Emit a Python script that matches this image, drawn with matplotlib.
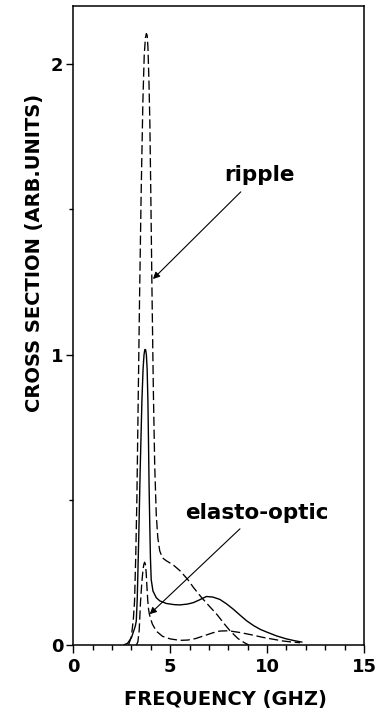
import matplotlib
matplotlib.use("Agg")
import matplotlib.pyplot as plt
from matplotlib.ticker import MultipleLocator

# ---- data ----
total_x = [2.6, 2.8, 3.0, 3.1, 3.2, 3.25, 3.3, 3.38, 3.45, 3.54, 3.6, 3.65, 3.69, 3.73,
           3.77, 3.81, 3.85, 3.88, 3.91, 3.95, 3.98, 4.02, 4.11, 4.28, 4.46, 4.8, 5.2,
           5.5, 5.9, 6.2, 6.5, 6.87, 7.2, 7.56, 7.9, 8.26, 8.6, 8.95, 9.3, 9.64, 10.0,
           10.5, 11.0, 11.4, 11.8]
total_y = [0.0, 0.006, 0.025, 0.045, 0.065, 0.083, 0.16, 0.38, 0.6, 0.84, 0.95, 1.0, 1.017,
           1.017, 1.0, 0.95, 0.84, 0.7, 0.55, 0.4, 0.3, 0.225, 0.186, 0.163, 0.152,
           0.143, 0.139, 0.138, 0.141, 0.146, 0.155, 0.167, 0.165, 0.157, 0.142, 0.123,
           0.103, 0.083, 0.067, 0.054, 0.044, 0.031, 0.021, 0.015, 0.01]

ripple_x = [2.85, 3.0, 3.1, 3.16, 3.22, 3.28, 3.35, 3.42, 3.5, 3.59, 3.66, 3.72, 3.77,
            3.81, 3.85, 3.9, 3.95, 4.0, 4.06, 4.13, 4.2, 4.28, 4.36, 4.46, 4.6, 4.8,
            5.15, 5.5, 5.9, 6.2, 6.6, 7.0, 7.4, 7.8, 8.1, 8.5, 8.8, 9.05]
ripple_y = [0.0, 0.03, 0.09, 0.15, 0.3, 0.5, 0.85, 1.2, 1.55, 1.87, 2.03, 2.09, 2.105,
            2.1, 2.06, 1.95, 1.8, 1.55, 1.22, 0.88, 0.62, 0.45, 0.37, 0.324, 0.3, 0.29,
            0.276, 0.256, 0.226, 0.198, 0.165, 0.135, 0.106, 0.072, 0.048, 0.022, 0.009,
            0.0]

elasto_x = [3.25, 3.33, 3.4, 3.47, 3.53, 3.59, 3.64, 3.68, 3.72, 3.76, 3.8, 3.84, 3.88,
            3.92, 3.98, 4.08, 4.28, 4.6, 5.0, 5.5, 5.9, 6.3, 6.8, 7.2, 7.56, 8.0, 8.6,
            9.2, 9.8, 10.3, 10.8, 11.3, 11.7]
elasto_y = [0.0, 0.01, 0.05, 0.15, 0.21, 0.255, 0.278, 0.285, 0.278, 0.25, 0.2, 0.155,
            0.125, 0.108, 0.092, 0.072, 0.048, 0.03, 0.021, 0.016, 0.017, 0.022, 0.033,
            0.042, 0.048, 0.049, 0.043, 0.035, 0.026, 0.02, 0.014, 0.01, 0.008]

x_major = [0, 5, 10, 15]
y_major = [0, 1, 2]

fig = plt.figure(figsize=(3.76, 7.14), dpi=100)
ax = fig.add_axes([73.3 / 376, 69 / 714, (364 - 73.3) / 376, 639 / 714])

ax.plot(total_x, total_y, color="black", lw=1.0, solid_capstyle="round")
ax.plot(ripple_x, ripple_y, color="black", lw=0.95, dashes=(7, 2.8))
ax.plot(elasto_x, elasto_y, color="black", lw=0.95, dashes=(7, 2.8))

ax.set_xlim(0, 15)
ax.set_ylim(0, 2.2)
ax.set_xticks(x_major)
ax.set_yticks(y_major)
ax.xaxis.set_minor_locator(MultipleLocator(1))
ax.yaxis.set_minor_locator(MultipleLocator(0.5))

tick_font = dict(family="DejaVu Sans", weight="bold", size=13)
ax.set_xticklabels([str(v) for v in x_major], fontdict=tick_font)
ax.set_yticklabels([str(v) for v in y_major], fontdict=tick_font)
ax.tick_params(axis="x", which="major", direction="out", length=6, width=1.0, pad=3)
ax.tick_params(axis="x", which="minor", direction="out", length=3.6, width=1.0)
ax.tick_params(axis="y", which="major", direction="out", length=5, width=1.0, pad=2)
ax.tick_params(axis="y", which="minor", direction="out", length=3, width=1.0)
for s in ax.spines.values():
    s.set_linewidth(1.1)

ann_font = dict(family="DejaVu Sans", weight="bold", size=15.5)
ax.annotate("", xy=(4.11, 1.26), xytext=(8.64, 1.56),
            arrowprops=dict(arrowstyle="-|>", color="black", lw=0.8,
                            mutation_scale=10, shrinkA=0, shrinkB=0))
ax.text(9.59, 1.617, "ripple", ha="center", va="center", **ann_font)
ax.annotate("", xy=(3.94, 0.106), xytext=(8.6, 0.40),
            arrowprops=dict(arrowstyle="-|>", color="black", lw=0.8,
                            mutation_scale=10, shrinkA=0, shrinkB=0))
ax.text(9.48, 0.455, "elasto-optic", ha="center", va="center", **ann_font)

label_font = dict(family="DejaVu Sans", weight="bold", size=14)
fig.text(225 / 376, 1 - 700 / 714, "FREQUENCY (GHZ)", ha="center", va="center",
         **label_font)
fig.text(35 / 376, 1 - 253 / 714, "CROSS SECTION (ARB.UNITS)", ha="center",
         va="center", rotation=90, **label_font)

fig.savefig("out.png", dpi=100)
